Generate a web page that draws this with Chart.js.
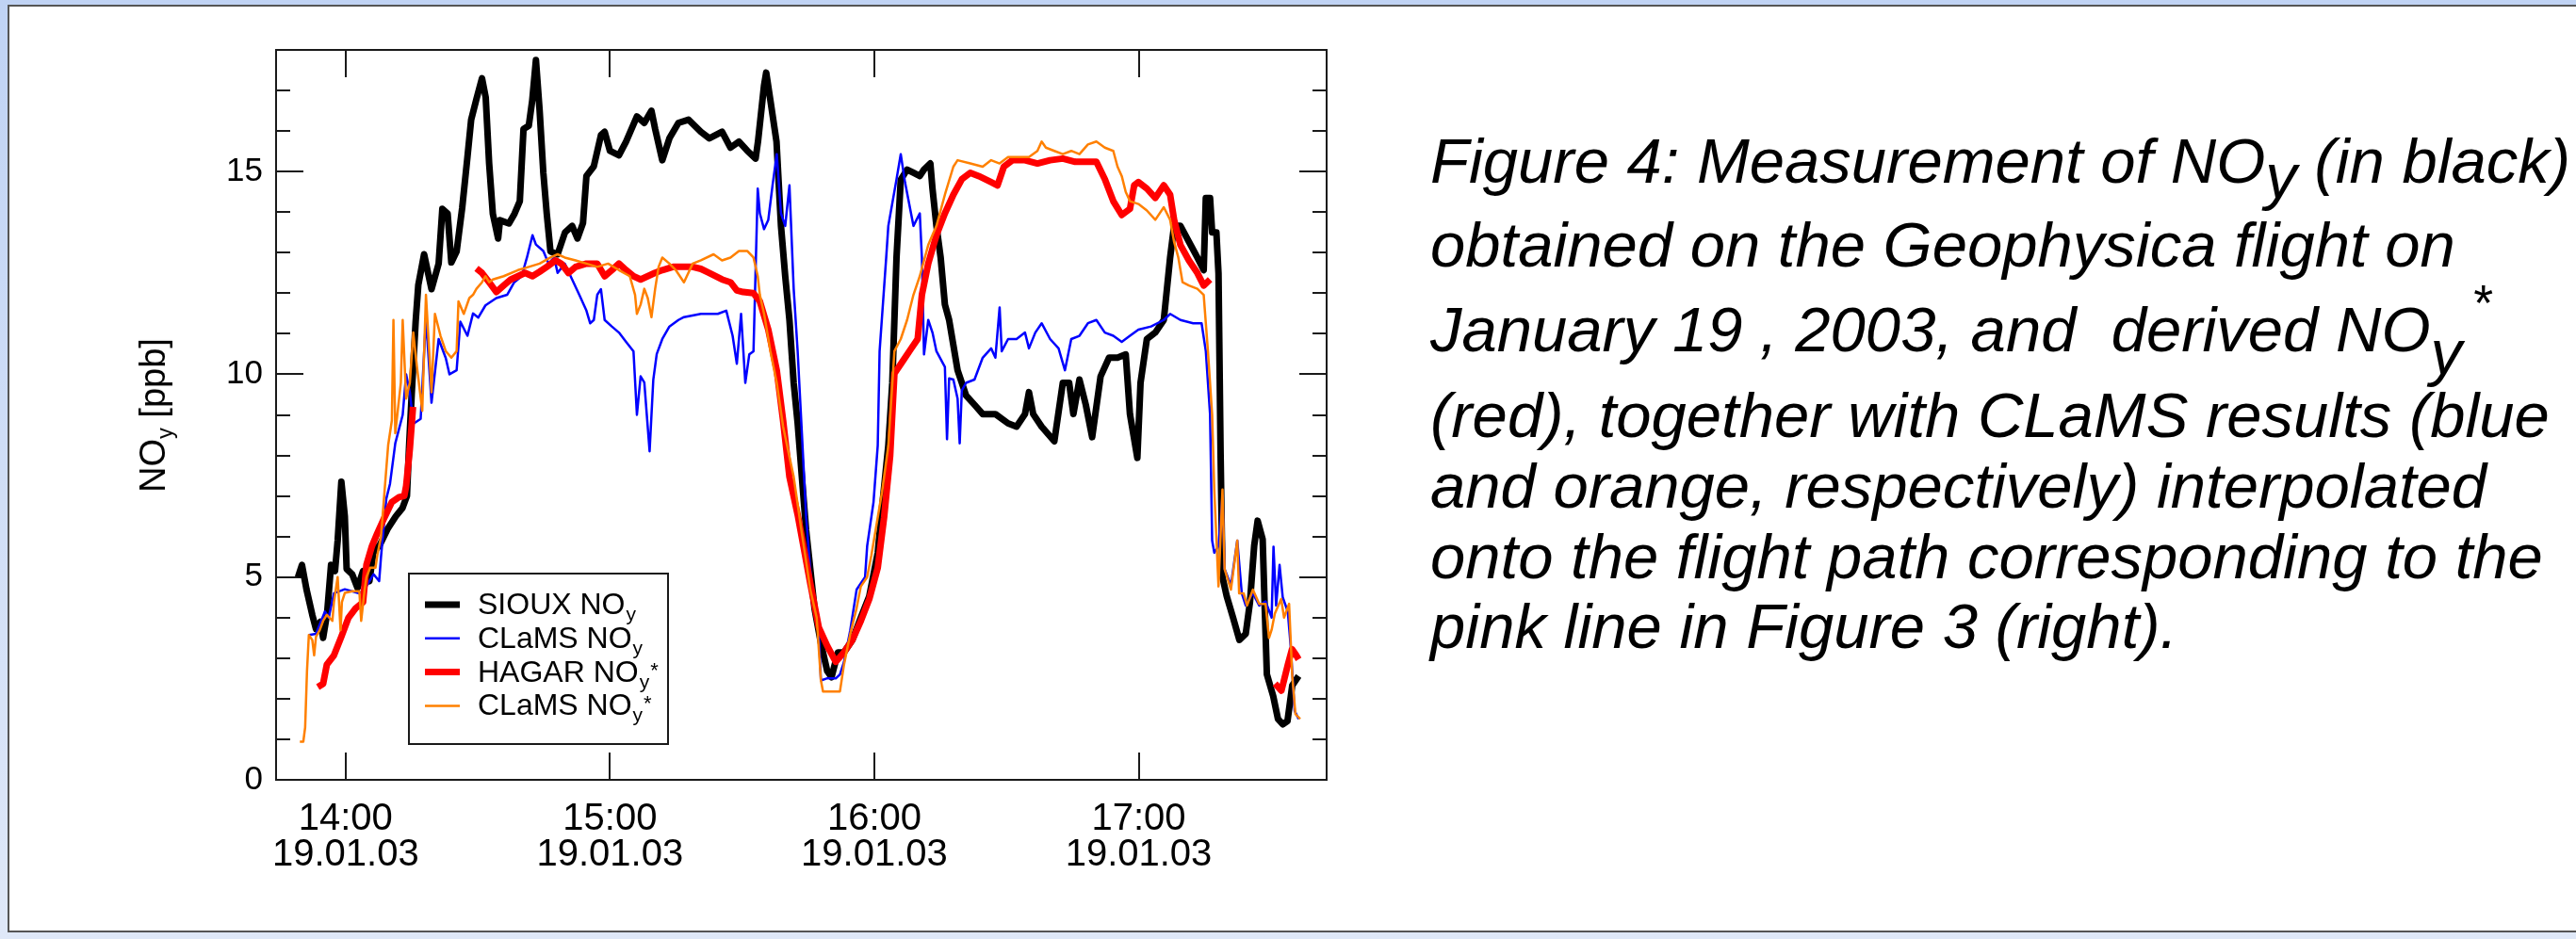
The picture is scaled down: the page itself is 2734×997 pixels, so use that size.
<!DOCTYPE html>
<html>
<head>
<meta charset="utf-8">
<script src="https://cdn.jsdelivr.net/npm/chart.js@4.4.1/dist/chart.umd.min.js"></script>
<style>
  html, body { margin: 0; padding: 0; width: 2734px; height: 997px; overflow: hidden; }
  body { position: relative; background: linear-gradient(#c0d3f4, #dfe8f8); font-family: "Liberation Sans", Arial, sans-serif; }
  #panel { position: absolute; left: 8px; top: 5px; width: 2740px; height: 985px; box-sizing: border-box;
           background: #fff; border: 2px solid #555; }
  #c { position: absolute; left: 0; top: 0; }
  #ytitle { position: absolute; left: 162px; top: 441px; transform: translate(-50%, -50%) rotate(-90deg);
            font-size: 38px; white-space: nowrap; color: #000; line-height: 1; }
  #ytitle .s { font-size: 0.62em; position: relative; top: 8px; }
  .cap { position: absolute; left: 1518px; font-style: italic; font-size: 67px; line-height: 1; white-space: nowrap; color: #000; }
  .sb1 { position: relative; top: 16px; font-size: 1em; }
  .sb3 { position: relative; top: 24px; font-size: 1em; }
  .st { position: relative; top: -33px; font-size: 0.8em; margin-left: 10px; }
</style>
</head>
<body>
<div id="panel"></div>
<canvas id="c" width="2734" height="997"></canvas>
<div id="ytitle">NO<span class="s">y</span> [ppb]</div>
<div class="cap" style="top:137px">Figure 4: Measurement of NO<span class="sb1">y</span> (in black)</div>
<div class="cap" style="top:226px">obtained on the Geophysica flight on</div>
<div class="cap" style="top:316px">January 19 , 2003, and&nbsp; derived NO<span class="sb3">y</span><span class="st">*</span></div>
<div class="cap" style="top:407px">(red), together with CLaMS results (blue</div>
<div class="cap" style="top:482px">and orange, respectively) interpolated</div>
<div class="cap" style="top:557px">onto the flight path corresponding to the</div>
<div class="cap" style="top:631px">pink line in Figure 3 (right).</div>
<script>
// ---- tick labels ----
const xTickValues = [14, 15, 16, 17];
const xTickLabels = [['14:00', '19.01.03'], ['15:00', '19.01.03'], ['16:00', '19.01.03'], ['17:00', '19.01.03']];
const yTickValues = [0, 5, 10, 15];

// ---- legend names ----
const seriesNames = ['SIOUX NO', 'CLaMS NO', 'HAGAR NO', 'CLaMS NO'];
const seriesSub = ['y', 'y', 'y', 'y'];
const seriesSup = ['', '', '*', '*'];

// ---- series: [time in decimal hours, NOy in ppb] ----
const siouxNOy = [
[13.820,5.0],[13.835,5.3],[13.852,4.7],[13.874,4.07],[13.888,3.72],[13.905,3.9],[13.915,3.5],[13.930,4.1],
[13.945,5.3],[13.960,5.15],[13.970,5.9],[13.984,7.35],[13.997,6.5],[14.004,5.2],[14.025,5.07],[14.045,4.73],
[14.066,5.15],[14.090,4.9],[14.105,5.6],[14.130,5.8],[14.160,6.2],[14.190,6.5],[14.215,6.7],[14.232,7.0],
[14.240,8.2],[14.250,9.5],[14.265,11.3],[14.275,12.2],[14.297,12.96],[14.325,12.1],[14.352,12.73],[14.366,14.08],
[14.386,13.96],[14.400,12.76],[14.420,13.03],[14.441,14.1],[14.461,15.36],[14.475,16.28],[14.495,16.79],[14.516,17.3],
[14.530,16.83],[14.543,15.2],[14.557,13.96],[14.577,13.35],[14.584,13.8],[14.618,13.72],[14.639,13.96],[14.659,14.27],
[14.673,16.05],[14.693,16.13],[14.706,16.75],[14.720,17.75],[14.734,16.5],[14.748,14.97],[14.761,13.96],[14.775,13.03],
[14.802,12.96],[14.830,13.5],[14.857,13.66],[14.877,13.35],[14.898,13.73],[14.911,14.89],[14.939,15.13],[14.966,15.9],
[14.980,15.98],[15.000,15.51],[15.034,15.4],[15.061,15.74],[15.102,16.36],[15.130,16.2],[15.157,16.5],[15.171,16.05],
[15.198,15.28],[15.225,15.82],[15.259,16.2],[15.297,16.28],[15.344,15.98],[15.376,15.82],[15.424,15.98],[15.456,15.59],
[15.488,15.74],[15.520,15.51],[15.551,15.32],[15.560,15.74],[15.583,17.13],[15.591,17.44],[15.607,16.75],[15.630,15.74],
[15.647,13.66],[15.663,12.42],[15.679,11.34],[15.695,9.79],[15.710,8.8],[15.726,7.47],[15.742,6.16],[15.774,4.22],
[15.798,3.37],[15.822,2.68],[15.838,2.53],[15.862,3.14],[15.885,3.14],[15.917,3.45],[15.949,4.0],[15.981,4.53],
[16.013,5.6],[16.029,6.7],[16.053,8.24],[16.068,9.79],[16.084,12.88],[16.100,14.8],[16.124,15.05],[16.148,14.97],
[16.172,14.89],[16.188,15.05],[16.212,15.2],[16.220,14.58],[16.235,13.66],[16.251,12.88],[16.267,11.72],[16.283,11.34],
[16.299,10.72],[16.315,10.1],[16.331,9.79],[16.347,9.48],[16.379,9.25],[16.410,9.02],[16.458,9.02],[16.506,8.79],
[16.538,8.71],[16.570,9.02],[16.585,9.56],[16.601,9.02],[16.633,8.71],[16.681,8.35],[16.713,9.79],[16.737,9.79],
[16.753,9.02],[16.776,9.87],[16.800,9.25],[16.824,8.45],[16.856,9.95],[16.888,10.41],[16.920,10.41],[16.951,10.49],
[16.967,9.02],[16.995,7.94],[17.007,9.79],[17.031,10.87],[17.063,11.03],[17.095,11.34],[17.119,12.88],[17.134,13.66],
[17.158,13.66],[17.190,13.27],[17.222,12.88],[17.246,12.57],[17.254,14.35],[17.270,14.35],[17.278,13.5],[17.294,13.5],
[17.302,12.49],[17.310,8.0],[17.317,5.0],[17.333,4.53],[17.357,4.0],[17.381,3.45],[17.405,3.6],[17.421,4.38],
[17.437,5.77],[17.450,6.39],[17.469,5.93],[17.477,4.22],[17.485,2.6],[17.509,2.06],[17.527,1.5],[17.545,1.37],
[17.563,1.45],[17.581,2.33],[17.605,2.56]
];

const clamsNOy = [
[13.861,3.57],[13.888,3.6],[13.922,4.15],[13.936,4.0],[13.956,4.6],[13.997,4.7],[14.052,4.6],[14.072,4.7],
[14.106,5.07],[14.127,4.9],[14.134,5.5],[14.154,6.93],[14.168,7.3],[14.188,8.3],[14.216,9.0],[14.229,10.0],
[14.243,9.56],[14.256,8.78],[14.284,8.9],[14.304,11.4],[14.325,9.3],[14.352,10.87],[14.379,10.4],[14.393,10.0],
[14.420,10.1],[14.434,11.3],[14.461,10.95],[14.482,11.5],[14.502,11.4],[14.529,11.7],[14.570,11.88],[14.611,11.96],
[14.638,12.27],[14.666,12.42],[14.686,12.88],[14.707,13.43],[14.720,13.2],[14.748,13.04],[14.768,12.73],[14.789,12.88],
[14.802,12.5],[14.829,12.73],[14.857,12.34],[14.884,11.96],[14.911,11.57],[14.925,11.26],[14.939,11.34],[14.952,11.96],
[14.966,12.1],[14.980,11.34],[15.007,11.18],[15.034,11.03],[15.061,10.8],[15.089,10.57],[15.102,9.0],[15.116,9.95],
[15.130,9.8],[15.150,8.1],[15.164,9.87],[15.177,10.5],[15.198,10.87],[15.225,11.18],[15.259,11.34],[15.280,11.41],
[15.344,11.49],[15.408,11.49],[15.440,11.57],[15.464,10.95],[15.480,10.26],[15.496,11.49],[15.512,9.79],[15.527,10.49],
[15.543,10.57],[15.559,14.58],[15.567,13.97],[15.583,13.58],[15.599,13.81],[15.615,14.66],[15.631,15.43],[15.647,13.97],
[15.663,13.66],[15.679,14.66],[15.695,12.11],[15.710,10.57],[15.726,8.55],[15.742,6.5],[15.758,5.15],[15.774,4.23],
[15.790,3.6],[15.798,2.45],[15.820,2.5],[15.854,2.5],[15.870,2.6],[15.885,2.9],[15.909,3.69],[15.933,4.69],
[15.965,5.0],[15.973,5.77],[15.997,6.85],[16.013,8.25],[16.020,10.57],[16.045,12.88],[16.053,13.66],[16.084,14.81],
[16.100,15.43],[16.116,14.74],[16.132,14.2],[16.148,13.66],[16.172,13.97],[16.180,12.88],[16.188,10.49],[16.204,11.34],
[16.220,11.03],[16.235,10.57],[16.267,10.18],[16.275,8.4],[16.283,9.9],[16.299,9.87],[16.315,9.4],[16.323,8.3],
[16.331,9.6],[16.347,9.79],[16.379,9.87],[16.410,10.41],[16.442,10.64],[16.458,10.41],[16.474,11.65],[16.482,10.57],
[16.506,10.87],[16.538,10.87],[16.570,11.03],[16.585,10.64],[16.609,11.03],[16.633,11.26],[16.665,10.87],[16.697,10.64],
[16.721,10.1],[16.745,10.87],[16.776,10.95],[16.808,11.26],[16.840,11.34],[16.872,11.03],[16.904,10.95],[16.936,10.8],
[16.967,10.95],[16.999,11.1],[17.047,11.18],[17.095,11.34],[17.119,11.49],[17.158,11.34],[17.206,11.26],[17.238,11.26],
[17.254,10.57],[17.270,9.02],[17.278,5.9],[17.286,5.6],[17.302,5.77],[17.317,7.0],[17.325,5.2],[17.349,4.8],
[17.373,5.9],[17.390,4.6],[17.405,4.3],[17.432,4.6],[17.456,4.3],[17.480,4.4],[17.503,4.0],[17.510,5.75],
[17.520,4.3],[17.533,5.3],[17.545,4.5],[17.564,4.15],[17.575,3.3],[17.590,1.7],[17.605,1.5]
];

const hagarNOyStar = [
[13.895,2.29],[13.915,2.37],[13.929,2.84],[13.956,3.07],[13.984,3.53],[14.011,4.0],[14.038,4.23],[14.066,4.38],
[14.079,5.31],[14.100,5.77],[14.120,6.08],[14.147,6.47],[14.175,6.85],[14.202,6.97],[14.222,7.0],[14.229,7.24],
[14.243,8.16],[14.255,9.2],[14.370,null],
[14.495,12.61],[14.516,12.5],[14.543,12.27],[14.570,12.03],[14.598,12.19],[14.625,12.34],[14.652,12.42],[14.679,12.5],
[14.707,12.42],[14.734,12.53],[14.761,12.65],[14.795,12.81],[14.816,12.73],[14.843,12.5],[14.870,12.65],[14.911,12.73],
[14.952,12.73],[14.980,12.42],[15.007,12.57],[15.034,12.73],[15.061,12.57],[15.089,12.42],[15.116,12.34],[15.143,12.42],
[15.170,12.5],[15.198,12.57],[15.239,12.65],[15.280,12.65],[15.313,12.65],[15.344,12.6],[15.376,12.5],[15.424,12.34],
[15.456,12.27],[15.480,12.07],[15.504,12.03],[15.543,12.0],[15.567,11.8],[15.599,11.1],[15.631,10.1],[15.655,8.86],
[15.679,7.47],[15.710,6.54],[15.734,5.69],[15.758,4.84],[15.790,3.76],[15.822,3.3],[15.854,2.91],[15.885,3.14],
[15.917,3.45],[15.949,3.92],[15.981,4.46],[16.013,5.23],[16.037,6.47],[16.060,8.0],[16.076,10.02],[16.108,10.33],
[16.140,10.64],[16.164,10.87],[16.180,11.96],[16.204,12.73],[16.235,13.43],[16.267,13.97],[16.299,14.43],[16.331,14.81],
[16.363,14.97],[16.395,14.89],[16.442,14.74],[16.466,14.66],[16.490,15.12],[16.522,15.28],[16.570,15.28],[16.617,15.2],
[16.665,15.28],[16.713,15.32],[16.760,15.24],[16.808,15.24],[16.840,15.24],[16.872,14.81],[16.904,14.27],[16.936,13.93],
[16.967,14.08],[16.983,14.66],[16.999,14.74],[17.031,14.58],[17.063,14.35],[17.095,14.66],[17.119,14.43],[17.134,13.81],
[17.158,13.19],[17.190,12.81],[17.222,12.5],[17.246,12.19],[17.270,12.34],[17.400,null],
[17.516,2.37],[17.540,2.2],[17.564,2.83],[17.580,3.22],[17.596,3.07],[17.605,2.97]
];

const clamsNOyStar = [
[13.827,0.94],[13.840,0.94],[13.847,1.29],[13.854,2.68],[13.861,3.57],[13.874,3.45],[13.881,3.07],[13.888,3.53],
[13.902,3.69],[13.915,3.92],[13.929,4.07],[13.950,3.92],[13.956,4.38],[13.970,5.0],[13.981,3.69],[13.986,4.38],
[13.997,4.61],[14.025,4.65],[14.052,4.65],[14.059,3.92],[14.072,4.69],[14.079,5.0],[14.093,5.23],[14.113,5.23],
[14.120,5.54],[14.134,6.0],[14.147,7.09],[14.161,8.25],[14.175,8.86],[14.181,11.34],[14.188,8.55],[14.209,9.79],
[14.216,11.34],[14.229,9.4],[14.243,9.79],[14.256,11.03],[14.270,10.18],[14.290,9.1],[14.304,11.96],[14.325,9.56],
[14.338,11.49],[14.359,10.95],[14.379,10.57],[14.400,10.41],[14.420,10.57],[14.427,11.8],[14.447,11.49],[14.468,11.88],
[14.482,11.96],[14.495,12.11],[14.516,12.27],[14.529,12.42],[14.543,12.27],[14.557,12.34],[14.598,12.42],[14.652,12.57],
[14.693,12.65],[14.734,12.73],[14.775,12.88],[14.802,12.96],[14.829,12.88],[14.870,12.81],[14.911,12.73],[14.952,12.65],
[14.993,12.73],[15.034,12.57],[15.075,12.42],[15.095,11.96],[15.102,11.49],[15.116,11.72],[15.130,12.11],[15.143,11.88],
[15.157,11.41],[15.171,12.11],[15.184,12.65],[15.198,12.88],[15.225,12.73],[15.249,12.57],[15.280,12.27],[15.313,12.73],
[15.344,12.81],[15.392,12.96],[15.424,12.81],[15.456,12.88],[15.488,13.04],[15.520,13.04],[15.543,12.88],[15.559,12.42],
[15.567,11.96],[15.583,11.49],[15.607,10.57],[15.631,9.79],[15.655,8.71],[15.695,7.47],[15.726,6.08],[15.758,4.69],
[15.782,4.0],[15.798,2.45],[15.806,2.18],[15.870,2.18],[15.885,2.83],[15.909,3.6],[15.933,4.23],[15.949,4.77],
[15.973,5.0],[15.989,5.54],[16.005,6.16],[16.029,7.09],[16.053,8.24],[16.076,10.57],[16.100,10.87],[16.124,11.34],
[16.148,11.96],[16.172,12.42],[16.204,13.19],[16.235,13.66],[16.267,14.43],[16.299,15.12],[16.315,15.28],[16.363,15.2],
[16.410,15.12],[16.442,15.28],[16.474,15.2],[16.506,15.36],[16.554,15.36],[16.585,15.36],[16.617,15.51],[16.633,15.74],
[16.649,15.59],[16.681,15.51],[16.713,15.43],[16.745,15.51],[16.776,15.43],[16.808,15.67],[16.840,15.74],[16.872,15.59],
[16.904,15.51],[16.920,15.12],[16.936,14.89],[16.951,14.5],[16.967,14.27],[16.999,14.2],[17.031,14.04],[17.063,13.81],
[17.095,14.12],[17.119,13.81],[17.134,13.27],[17.150,12.88],[17.166,12.27],[17.190,12.19],[17.222,12.11],[17.246,11.96],
[17.262,10.57],[17.278,9.0],[17.286,7.16],[17.302,4.77],[17.317,7.16],[17.325,5.2],[17.349,4.69],[17.373,5.9],
[17.380,4.6],[17.397,4.6],[17.410,4.3],[17.432,4.69],[17.456,4.34],[17.480,4.34],[17.493,3.5],[17.503,3.7],
[17.515,4.1],[17.539,4.46],[17.550,4.0],[17.569,4.34],[17.575,3.45],[17.581,2.56],[17.593,1.62],[17.611,1.5]
];

const toPoints = arr => arr.map(p => ({ x: p[0], y: p[1] }));

const FONT = '"Liberation Sans", Arial, sans-serif';

const frameTicks = {
  id: 'frameTicks',
  beforeDatasetsDraw(chart) {
    const { ctx, chartArea: a, scales } = chart;
    const x = scales.x, y = scales.y;
    ctx.save();
    ctx.strokeStyle = '#1a1a1a';
    ctx.lineWidth = 2;
    ctx.beginPath();
    xTickValues.forEach(v => {
      const px = Math.round(x.getPixelForValue(v));
      ctx.moveTo(px, a.bottom); ctx.lineTo(px, a.bottom - 29);
      ctx.moveTo(px, a.top); ctx.lineTo(px, a.top + 29);
    });
    for (let v = y.min; v <= y.max; v += 1) {
      const py = Math.round(y.getPixelForValue(v));
      const len = (v % 5 === 0) ? 29 : 15;
      ctx.moveTo(a.left, py); ctx.lineTo(a.left + len, py);
      ctx.moveTo(a.right, py); ctx.lineTo(a.right - len, py);
    }
    ctx.stroke();
    ctx.strokeRect(a.left, a.top, a.right - a.left, a.bottom - a.top);
    ctx.restore();
  }
};

const customLegend = {
  id: 'customLegend',
  afterDatasetsDraw(chart) {
    const { ctx } = chart;
    const box = { left: 434, top: 609, right: 709, bottom: 790 };
    ctx.save();
    ctx.fillStyle = '#fff';
    ctx.fillRect(box.left, box.top, box.right - box.left, box.bottom - box.top);
    ctx.strokeStyle = '#1a1a1a';
    ctx.lineWidth = 2;
    ctx.strokeRect(box.left, box.top, box.right - box.left, box.bottom - box.top);
    chart.data.datasets.forEach((ds, i) => {
      const rowY = 642 + i * 35.8;
      ctx.strokeStyle = ds.borderColor;
      ctx.lineWidth = ds.borderWidth;
      ctx.beginPath();
      ctx.moveTo(451, rowY); ctx.lineTo(488, rowY);
      ctx.stroke();
      const base = rowY + 10;
      ctx.fillStyle = '#000';
      ctx.textBaseline = 'alphabetic';
      ctx.textAlign = 'left';
      ctx.font = '32px ' + FONT;
      ctx.fillText(seriesNames[i], 507, base);
      let xx = 507 + ctx.measureText(seriesNames[i]).width + 1;
      ctx.font = '21px ' + FONT;
      ctx.fillText(seriesSub[i], xx, base + 7);
      xx += ctx.measureText(seriesSub[i]).width + 1;
      if (seriesSup[i]) {
        ctx.font = '22px ' + FONT;
        ctx.fillText(seriesSup[i], xx, base - 5);
      }
    });
    ctx.restore();
  }
};

new Chart(document.getElementById('c'), {
  type: 'line',
  data: {
    datasets: [
      { label: 'SIOUX NOy', data: toPoints(siouxNOy), borderColor: '#000000', borderWidth: 7, order: 4 },
      { label: 'CLaMS NOy', data: toPoints(clamsNOy), borderColor: '#0000ff', borderWidth: 2.5, order: 3 },
      { label: 'HAGAR NOy*', data: toPoints(hagarNOyStar), borderColor: '#ff0000', borderWidth: 7, order: 2 },
      { label: 'CLaMS NOy*', data: toPoints(clamsNOyStar), borderColor: '#ff8000', borderWidth: 2.5, order: 1 }
    ]
  },
  options: {
    responsive: false,
    animation: false,
    devicePixelRatio: 1,
    spanGaps: false,
    layout: { padding: { left: 143, top: 53, right: 1326, bottom: 49 } },
    plugins: { legend: { display: false }, tooltip: { enabled: false } },
    elements: {
      point: { radius: 0 },
      line: { tension: 0, borderJoinStyle: 'round', fill: false }
    },
    scales: {
      x: {
        type: 'linear', min: 13.737, max: 17.711,
        grid: { display: false, drawTicks: false },
        border: { display: false },
        afterFit: s => { s.height = 120; },
        afterBuildTicks: s => { s.ticks = xTickValues.map(v => ({ value: v })); },
        ticks: {
          autoSkip: false, maxRotation: 0, minRotation: 0, padding: 23, color: '#000',
          font: { family: FONT, size: 40, lineHeight: 0.95 },
          callback: (v, i) => xTickLabels[i]
        }
      },
      y: {
        type: 'linear', min: 0, max: 18,
        grid: { display: false, drawTicks: false },
        border: { display: false },
        afterFit: s => { s.width = 150; },
        afterBuildTicks: s => { s.ticks = yTickValues.map(v => ({ value: v })); },
        ticks: { padding: 14, color: '#000', font: { family: FONT, size: 35 } }
      }
    }
  },
  plugins: [frameTicks, customLegend]
});
</script>
</body>
</html>
